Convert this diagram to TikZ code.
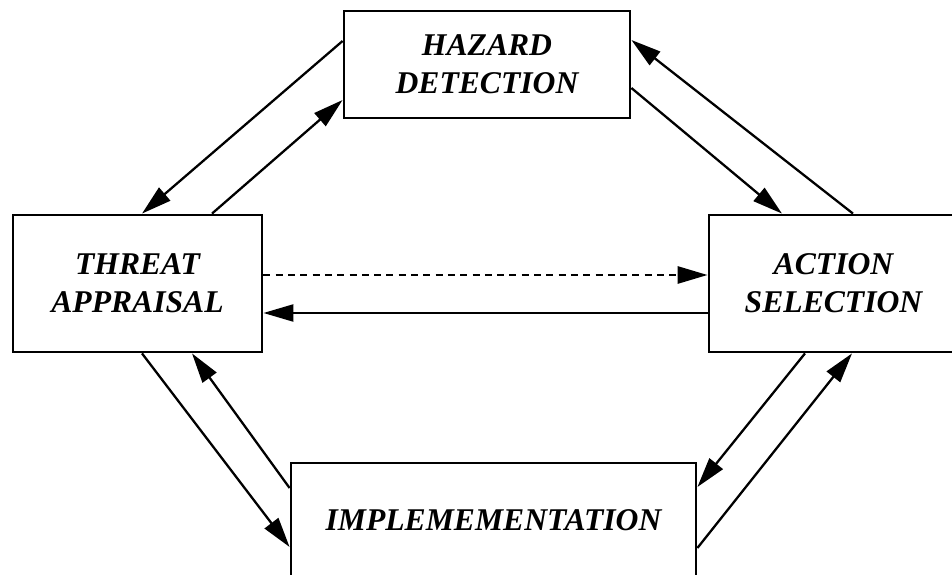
\documentclass[tikz,border=0pt]{standalone}
\usepackage{fontspec}
\setmainfont{Liberation Serif}
\usetikzlibrary{arrows.meta}

\tikzset{
    stagebox/.style={draw, line width=1.6pt, align=center, inner sep=0pt,
        font=\fontsize{18}{21.5}\selectfont\bfseries\itshape},
    flow/.style={line width=1.3pt, -{Triangle[length=0.6cm, width=0.34cm]}},
    hint/.style={flow, line width=1.6pt, dash pattern=on 4pt off 3pt}
}

\begin{document}
\begin{tikzpicture}
    \useasboundingbox (0,0) rectangle (19.04,11.48);

    \node[stagebox, minimum width=5.72cm, minimum height=2.14cm] (haz) at (9.74, 10.19) {HAZARD\\DETECTION};
    \node[stagebox, minimum width=4.98cm, minimum height=2.74cm] (thr) at (2.75, 5.81) {THREAT\\APPRAISAL};
    \node[stagebox, minimum width=4.98cm, minimum height=2.74cm] (act) at (16.67, 5.81) {ACTION\\SELECTION};
    \node[stagebox, minimum width=8.1cm, minimum height=2.28cm] (imp) at (9.87, 1.08) {IMPLEMEMENTATION};

    % top left pair
    \draw[flow] ([yshift=0.47cm]haz.west) -- ([xshift=0.09cm]thr.north);
    \draw[flow] ([xshift=1.49cm]thr.north) -- ([yshift=-0.71cm]haz.west);
    % top right pair
    \draw[flow] ([yshift=-0.47cm]haz.east) -- ([xshift=-1.03cm]act.north);
    \draw[flow] ([xshift=0.39cm]act.north) -- ([yshift=0.49cm]haz.east);
    % across the middle
    \draw[hint] ([yshift=0.17cm]thr.east) -- ([yshift=0.17cm]act.west);
    \draw[flow] ([yshift=-0.59cm]act.west) -- ([yshift=-0.59cm]thr.east);
    % bottom left pair
    \draw[flow] ([xshift=0.09cm]thr.south) -- ([yshift=-0.54cm]imp.west);
    \draw[flow] ([yshift=0.64cm]imp.west) -- ([xshift=1.09cm]thr.south);
    % bottom right pair
    \draw[flow] ([xshift=-0.57cm]act.south) -- ([yshift=0.66cm]imp.east);
    \draw[flow] ([yshift=-0.56cm]imp.east) -- ([xshift=0.37cm]act.south);
\end{tikzpicture}
\end{document}
